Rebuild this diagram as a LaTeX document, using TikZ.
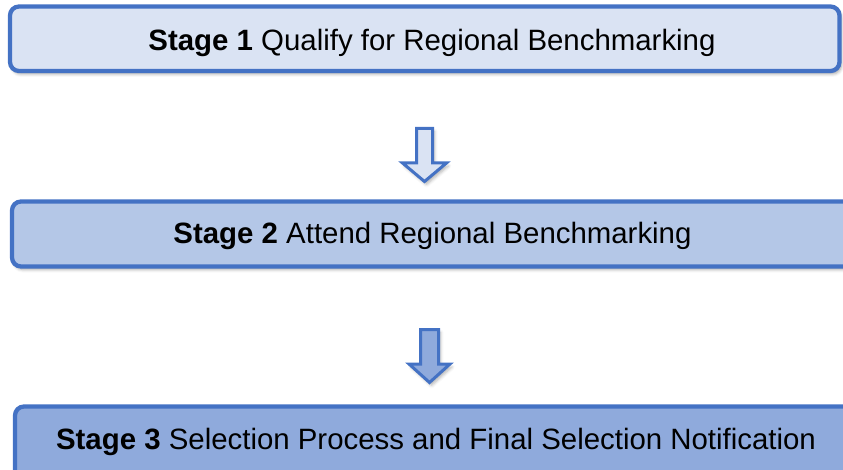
\documentclass[tikz,border=0pt]{standalone}
\usepackage{fontspec}
\setmainfont{Liberation Sans}
\usetikzlibrary{shadows.blur}
\definecolor{bord}{HTML}{4472C4}
\definecolor{fillA}{HTML}{DAE3F3}
\definecolor{fillB}{HTML}{B4C7E7}
\definecolor{fillC}{HTML}{8FAADC}
\tikzset{
  stagebox/.style={draw=bord, line width=4.3pt, rounded corners=9pt,
    blur shadow={shadow xshift=2pt, shadow yshift=-3pt, shadow blur radius=3pt, shadow opacity=35}},
  blockarrow/.style={draw=bord, line width=3pt, line join=miter,
    blur shadow={shadow xshift=2pt, shadow yshift=-3pt, shadow blur radius=3pt, shadow opacity=30}},
  stagetext/.style={font=\fontsize{29.4}{34}\selectfont, anchor=base, inner sep=0pt}
}
\begin{document}
\begin{tikzpicture}[x=1pt,y=-1pt]
\useasboundingbox (0,0) rectangle (843,470);
\begin{scope}
\clip (0,0) rectangle (843,470);
% boxes
\path[stagebox, fill=fillA] (10,6.5) rectangle (839.5,71);
\path[stagebox, fill=fillB] (12,201.5) rectangle (870,266.5);
\path[stagebox, fill=fillC] (15,406.5) rectangle (870,500);
% block arrows
\path[blockarrow, fill=fillA] (416.5,128.5) -- (432.5,128.5) -- (432.5,163) -- (446.5,163) -- (424.5,181.5) -- (402.5,163) -- (416.5,163) -- cycle;
\path[blockarrow, fill=fillC] (420.5,329.5) -- (438.5,329.5) -- (438.5,364) -- (450,364) -- (429.5,382.5) -- (409,364) -- (420.5,364) -- cycle;
\end{scope}
% texts
\node[stagetext] (t1) at (432,51) {\textbf{Stage 1} Qualify for Regional Benchmarking};
\node[stagetext] (t2) at (432.5,244) {\textbf{Stage 2} Attend Regional Benchmarking};
\node[stagetext] (t3) at (436,449) {\textbf{Stage 3} Selection Process and Final Selection Notification};
\end{tikzpicture}
\end{document}
